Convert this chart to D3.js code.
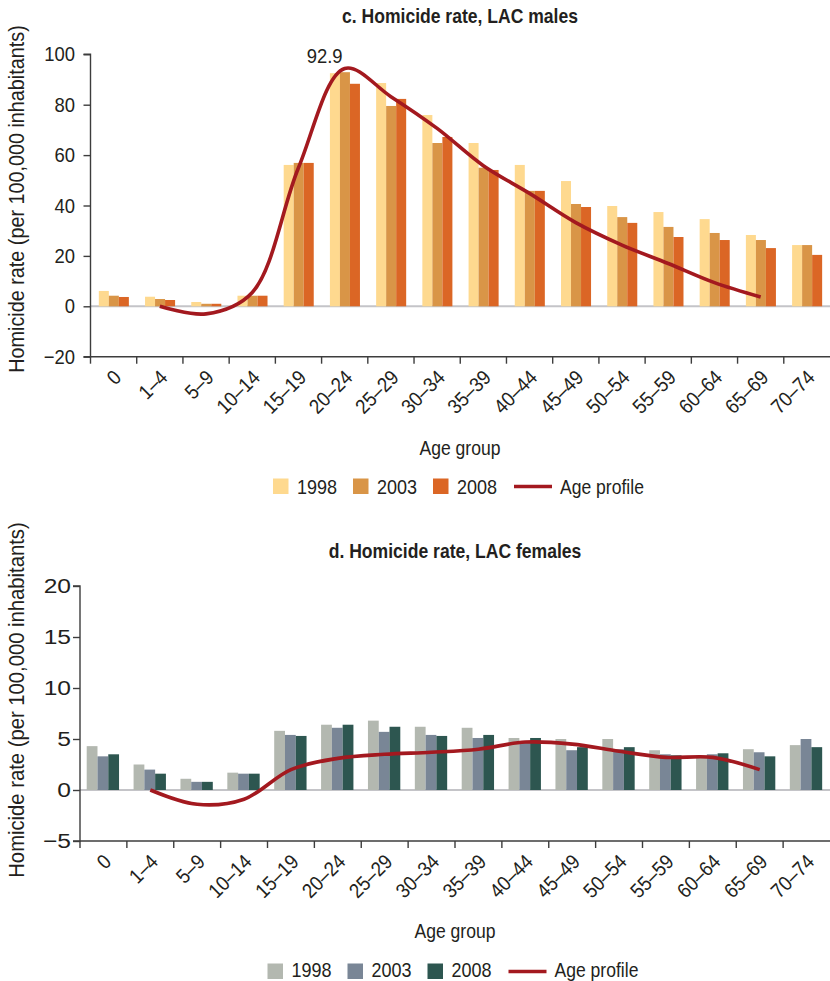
<!DOCTYPE html>
<html>
<head>
<meta charset="utf-8">
<script src="https://cdn.jsdelivr.net/npm/d3@7"></script>
<style>
  body { margin: 0; background: #fff; }
  svg text { font-family: "Liberation Sans", Arial, sans-serif; fill: #231f20; }
</style>
</head>
<body>
<svg id="chart" width="830" height="981"></svg>
<script>
// Age groups shared by both panels
const ageGroups = ["0", "1–4", "5–9", "10–14", "15–19", "20–24", "25–29", "30–34",
                   "35–39", "40–44", "45–49", "50–54", "55–59", "60–64", "65–69", "70–74"];
const years = ["1998", "2003", "2008"];

// c. Males, homicides per 100,000
const male1998 = [6.1, 3.8, 1.7, 4.2, 56.1, 92.5, 88.6, 75.9, 64.8, 56.1, 49.7, 39.8, 37.4, 34.6, 28.3, 24.3];
const male2003 = [4.2, 2.9, 1.0, 4.2, 56.9, 92.9, 79.5, 64.8, 55.0, 45.8, 40.6, 35.4, 31.5, 29.1, 26.3, 24.3];
const male2008 = [3.7, 2.5, 1.0, 4.2, 56.9, 88.3, 82.3, 67.2, 54.1, 45.8, 39.4, 33.1, 27.5, 26.3, 23.1, 20.4];
const maleProfile = [null, 0, -3.0, 5.5, 55, 94.4, 83.2, 70.6, 55.8, 44.8, 33.2, 24.3, 17.0, 9.4, 3.7, null];
const maleTicks = [-20, 0, 20, 40, 60, 80, 100];

// d. Females, homicides per 100,000
const female1998 = [4.3, 2.5, 1.1, 1.7, 5.8, 6.4, 6.8, 6.2, 6.1, 5.1, 5.0, 5.0, 3.9, 3.4, 4.0, 4.4];
const female2003 = [3.3, 2.0, 0.8, 1.6, 5.4, 6.1, 5.7, 5.4, 5.1, 4.8, 3.9, 4.0, 3.5, 3.5, 3.7, 5.0];
const female2008 = [3.5, 1.6, 0.8, 1.6, 5.3, 6.4, 6.2, 5.3, 5.4, 5.1, 4.2, 4.2, 3.4, 3.6, 3.3, 4.2];
const femaleProfile = [null, 0, -1.4, -0.9, 2.0, 3.1, 3.5, 3.7, 4.0, 4.7, 4.5, 3.8, 3.2, 3.2, 2.0, null];
const femaleTicks = [-5, 0, 5, 10, 15, 20];

const svg = d3.select("#chart");
const SX = 0.9;             // horizontal squeeze for a condensed look
const FS = 20;
const profileColor = "#a3191f";
const axisColor = "#3d3d3d";

// text helper: anchored at (x, y), optional rotation, condensed horizontally
function txt(parent, x, y, s, o = {}) {
  return parent.append("text")
    .attr("transform", `translate(${x},${y}) rotate(${o.rotate || 0}) scale(${o.sx || SX},1)`)
    .attr("text-anchor", o.anchor || "start")
    .attr("font-size", o.size || FS)
    .attr("font-weight", o.weight || "normal")
    .attr("dy", o.dy || null)
    .text(s);
}

function drawPanel(p) {
  const g = svg.append("g");
  const x0 = d3.scaleBand().domain(ageGroups).range([p.left, p.right]);
  const bw = x0.bandwidth();
  const x1 = d3.scaleBand().domain(years)
    .range([bw * p.groupStart, bw * (p.groupStart + p.groupWidth)]);
  const y = d3.scaleLinear().domain(p.domain).range([p.bottom, p.top]);

  // zero baseline
  g.append("line")
    .attr("x1", p.left).attr("x2", p.right)
    .attr("y1", y(0)).attr("y2", y(0))
    .attr("stroke", "#c4c4c8").attr("stroke-width", 2);

  // bars
  const rows = ageGroups.map((a, i) => ({ age: a, vals: p.series.map((s, k) => ({ year: years[k], v: s[i], k })) }));
  g.selectAll("g.grp").data(rows).join("g")
    .attr("class", "grp")
    .attr("transform", d => `translate(${x0(d.age)},0)`)
    .selectAll("rect").data(d => d.vals).join("rect")
    .attr("x", d => x1(d.year))
    .attr("width", x1.bandwidth())
    .attr("y", d => y(Math.max(0, d.v)))
    .attr("height", d => Math.abs(y(d.v) - y(0)))
    .attr("fill", d => p.colors[d.k]);

  // age profile
  const line = d3.line()
    .defined(d => d.v !== null)
    .x(d => x0(d.age) + bw / 2)
    .y(d => y(d.v))
    .curve(d3.curveCatmullRom.alpha(0.5));
  g.append("path")
    .datum(ageGroups.map((a, i) => ({ age: a, v: p.profile[i] })))
    .attr("d", line)
    .attr("fill", "none")
    .attr("stroke", profileColor)
    .attr("stroke-width", 3.6);

  // y axis
  const yAxis = d3.axisLeft(y).tickValues(p.ticks).tickSize(7).tickFormat("");
  const ya = g.append("g").attr("transform", `translate(${p.left},0)`).call(yAxis);
  ya.select(".domain").attr("stroke", axisColor).attr("stroke-width", 1.4)
    .attr("d", `M-7,${p.top}H0V${p.bottom}H-7`);
  ya.selectAll(".tick line").attr("stroke", axisColor).attr("stroke-width", 1.4);
  p.ticks.forEach(t => {
    txt(g, p.left - 7 - p.tickPad, y(t), t < 0 ? "−" + Math.abs(t) : String(t),
        { anchor: "end", dy: "0.35em", size: p.tickSize, sx: p.tickSX });
  });

  // x axis along the bottom of the value range
  const xa = g.append("g").attr("transform", `translate(0,${p.bottom})`);
  xa.append("line").attr("x1", p.left).attr("x2", p.right)
    .attr("stroke", axisColor).attr("stroke-width", 1.4);
  xa.selectAll("line.tk").data(ageGroups.map(a => x0(a))).join("line")
    .attr("class", "tk")
    .attr("x1", d => d).attr("x2", d => d).attr("y1", 0).attr("y2", 7)
    .attr("stroke", axisColor).attr("stroke-width", 1.4);
  ageGroups.forEach(a => {
    txt(xa, x0(a) + bw / 2 + 9, 22, a, { anchor: "end", rotate: -45, size: 20.5 });
  });

  // titles
  txt(g, p.titleX, p.titleY, p.title, { anchor: "middle", weight: "bold", size: 19.5 });
  txt(g, p.yTitleX, p.yTitleY, "Homicide rate (per 100,000 inhabitants)",
      { anchor: "middle", rotate: -90, size: p.yTitleSize });
  txt(g, p.titleX, p.xTitleY, "Age group", { anchor: "middle", size: 19.5 });

  // legend
  const lg = g.append("g").attr("transform", `translate(${p.legendX},${p.legendY})`);
  const slots = [0, 80, 160];
  years.forEach((yr, k) => {
    lg.append("rect").attr("x", slots[k]).attr("y", p.swatchY).attr("width", 15.5).attr("height", 15.5)
      .attr("fill", p.colors[k]);
    txt(lg, slots[k] + 24, 0, yr);
  });
  lg.append("line").attr("x1", 241).attr("x2", 279).attr("y1", p.swatchY + 8).attr("y2", p.swatchY + 8)
    .attr("stroke", profileColor).attr("stroke-width", 3.6);
  txt(lg, 287, 0, "Age profile", { size: 19.5 });

  return { x0, x1, y, g };
}

const m = drawPanel({
  left: 90.5, right: 830, top: 54.3, bottom: 356.7, domain: [-20, 100], ticks: maleTicks,
  groupStart: 0.18, groupWidth: 0.65, tickPad: 8.5, tickSize: 20.5, tickSX: 0.9,
  series: [male1998, male2003, male2008], profile: maleProfile,
  colors: ["#fed98f", "#d99547", "#db6625"],
  title: "c. Homicide rate, LAC males", titleX: 460, titleY: 23,
  yTitleX: 24, yTitleY: 199, yTitleSize: 22, xTitleY: 455,
  legendX: 273, legendY: 494, swatchY: -15.5
});

// value label over the 2003 peak bar
const peakIdx = 5;
txt(m.g, m.x0(ageGroups[peakIdx]) + 3, m.y(male2003[peakIdx]) - 9,
    d3.format(".1f")(male2003[peakIdx]), { anchor: "middle", size: 20.5 });

drawPanel({
  left: 80, right: 830, top: 586, bottom: 841, domain: [-5, 20], ticks: femaleTicks,
  groupStart: 0.143, groupWidth: 0.69, tickPad: 2, tickSize: 20.5, tickSX: 1.2,
  series: [female1998, female2003, female2008], profile: femaleProfile,
  colors: ["#b3b8b0", "#798696", "#2d5650"],
  title: "d. Homicide rate, LAC females", titleX: 455, titleY: 558,
  yTitleX: 24, yTitleY: 700, yTitleSize: 22.5, xTitleY: 938,
  legendX: 267.5, legendY: 976.5, swatchY: -13
});
</script>
</body>
</html>
